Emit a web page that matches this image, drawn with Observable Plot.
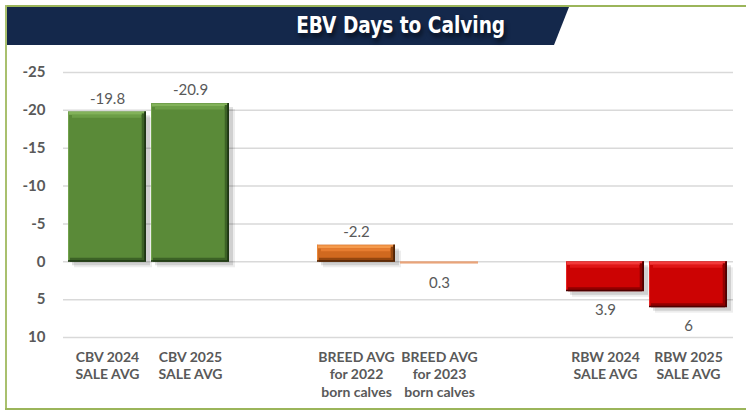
<!DOCTYPE html>
<html>
<head>
<meta charset="utf-8">
<script src="https://cdn.jsdelivr.net/npm/d3@7"></script>
<script src="https://cdn.jsdelivr.net/npm/@observablehq/plot@0.6"></script>
<style>
  html, body { margin: 0; padding: 0; background: #fff; }
  #wrap { position: relative; width: 746px; height: 412px; overflow: hidden; background: #fff; font-family: Lato, "Open Sans", sans-serif; }
  #topline { position: absolute; left: 5px; top: 5px; width: 741px; height: 2px; background: #9bb55a; }
  #botline { position: absolute; left: 5px; top: 408px; width: 741px; height: 2px; background: #9bb55a; }
  #leftline { position: absolute; left: 5px; top: 5px; width: 2px; height: 405px; background: #a9c06e; }
  #banner { position: absolute; left: 7px; top: 7px; width: 562px; height: 38px; background: #14284b;
            clip-path: polygon(0 0, 100% 0, calc(100% - 15px) 100%, 0 100%); }
  #title { position: absolute; top: 9px; left: 401px; white-space: nowrap; color: #fff;
           font-family: "DejaVu Sans Condensed", "Liberation Sans Narrow", sans-serif; font-weight: bold; font-size: 23px;
           line-height: 32px; transform-origin: center; text-shadow: 2px 4px 5px rgba(0,0,0,0.55); }
  #chart { position: absolute; left: 0; top: 46px; }
</style>
</head>
<body>
<div id="wrap">
  <div id="topline"></div>
  <div id="banner"></div>
  <div id="leftline"></div>
  <div id="botline"></div>
  <div id="title">EBV Days to Calving</div>
  <div id="chart"></div>
</div>
<script>
// ---- data ----
const slots = ["CBV 2024\nSALE AVG", "CBV 2025\nSALE AVG", " ",
               "BREED AVG\nfor 2022\nborn calves", "BREED AVG\nfor 2023\nborn calves", "  ",
               "RBW 2024\nSALE AVG", "RBW 2025\nSALE AVG"];
const categories = ["CBV 2024\nSALE AVG", "CBV 2025\nSALE AVG",
                    "BREED AVG\nfor 2022\nborn calves", "BREED AVG\nfor 2023\nborn calves",
                    "RBW 2024\nSALE AVG", "RBW 2025\nSALE AVG"];
const values = [-19.8, -20.9, -2.2, 0.3, 3.9, 6];
const groups = ["CBV", "CBV", "BREED", "BREED", "RBW", "RBW"];
const yTicks = [-25, -20, -15, -10, -5, 0, 5, 10];

const groupDomain = ["CBV", "BREED", "RBW"];
const baseColors   = ["#5a8a38", "#d0691f", "#cc0303"];
const lightColors  = ["#82b25a", "#f59a4c", "#f23a3a"];
const light2Colors = ["#6c9e47", "#e67d30", "#e01616"];
const darkColors   = ["#1e3614", "#4e2306", "#4e0000"];
const midDark      = ["#3c6226", "#93460f", "#900000"];

const rows = categories.map((c, i) => ({cat: c, v: values[i], g: groups[i],
  top: Math.min(values[i], 0), bot: Math.max(values[i], 0)}));
const big = rows.filter(d => Math.abs(d.v) >= 1);

// ---- layout ----
const W = 746, H = 362, mL = 63, mR = 13, mT = 26, mB = 71;
const pIn = 0.06, pOut = 0.03;
const step = (W - mL - mR) / (slots.length - pIn + 2 * pOut);
const bw = step * (1 - pIn);
const pick = arr => d => arr[groupDomain.indexOf(d.g)];

const chart = Plot.plot({
  width: W, height: H,
  marginLeft: mL, marginRight: mR, marginTop: mT, marginBottom: mB,
  style: {fontFamily: "Lato, 'Open Sans', sans-serif", color: "#595959", background: "transparent"},
  x: {domain: slots, paddingInner: pIn, paddingOuter: pOut, label: null},
  y: {domain: [10, -25], label: null},
  marks: [
    Plot.ruleY(yTicks, {stroke: "#d9d9d9", strokeWidth: 1.5}),
    Plot.axisY({ticks: yTicks, tickSize: 0, tickPadding: 18, fontSize: 15, fontWeight: "bold",
                tickFormat: d => String(d), label: null}),
    Plot.axisX({tickSize: 0, tickPadding: 12, fontSize: 14, fontWeight: "bold", lineHeight: 1.25,
                tickFormat: d => d.trim(), label: null}),
    // shadow
    Plot.barY(big, {x: "cat", y1: 0, y2: "v", fill: "#000", fillOpacity: 0.12, dx: 4, dy: 4}),
    Plot.barY(big, {x: "cat", y1: 0, y2: "v", fill: "#000", fillOpacity: 0.07, dx: 6, dy: 6}),
    // bars
    Plot.barY(rows, {x: "cat", y1: 0, y2: "v", fill: d => Math.abs(d.v) < 1 ? "#e9a47a" : pick(baseColors)(d)}),
    // bevel facets
    Plot.barY(big, {x: "cat", y1: "top", y2: "bot", insetRight: bw - 1.5, fill: pick(lightColors), fillOpacity: 0.8}),
    Plot.tickY(big, {x: "cat", y: "top", stroke: pick(lightColors), strokeWidth: 3, dy: 1.5, insetLeft: 1, insetRight: 2}),
    Plot.tickY(big, {x: "cat", y: "top", stroke: pick(light2Colors), strokeWidth: 3, dy: 4.5, insetLeft: 4, insetRight: 5}),
    Plot.tickY(big, {x: "cat", y: "bot", stroke: pick(midDark), strokeWidth: 4, dy: -2, insetLeft: 2, insetRight: 2}),
    Plot.barY(big, {x: "cat", y1: "top", y2: "bot", insetLeft: bw - 5, insetTop: 2, fill: pick(midDark)}),
    Plot.barY(big, {x: "cat", y1: "top", y2: "bot", insetLeft: bw - 2.5, fill: pick(darkColors)}),
    Plot.tickY(big, {x: "cat", y: "bot", stroke: pick(darkColors), strokeWidth: 1.5, dy: -0.75}),
    // value labels
    Plot.text(rows.filter(d => d.v < 0), {x: "cat", y: "v", text: d => String(d.v), dy: -13,
              fontSize: 15, fill: "#595959"}),
    Plot.text(rows.filter(d => d.v > 0), {x: "cat", y: "v", text: d => String(d.v), dy: 19,
              fontSize: 15, fill: "#595959"})
  ]
});
document.getElementById("chart").appendChild(chart);

// fit title width to the banner text extent
const t = document.getElementById("title");
const w = t.getBoundingClientRect().width;
t.style.left = (401 - w / 2) + "px";
t.style.transform = `scaleX(${209 / w})`;
</script>
</body>
</html>
